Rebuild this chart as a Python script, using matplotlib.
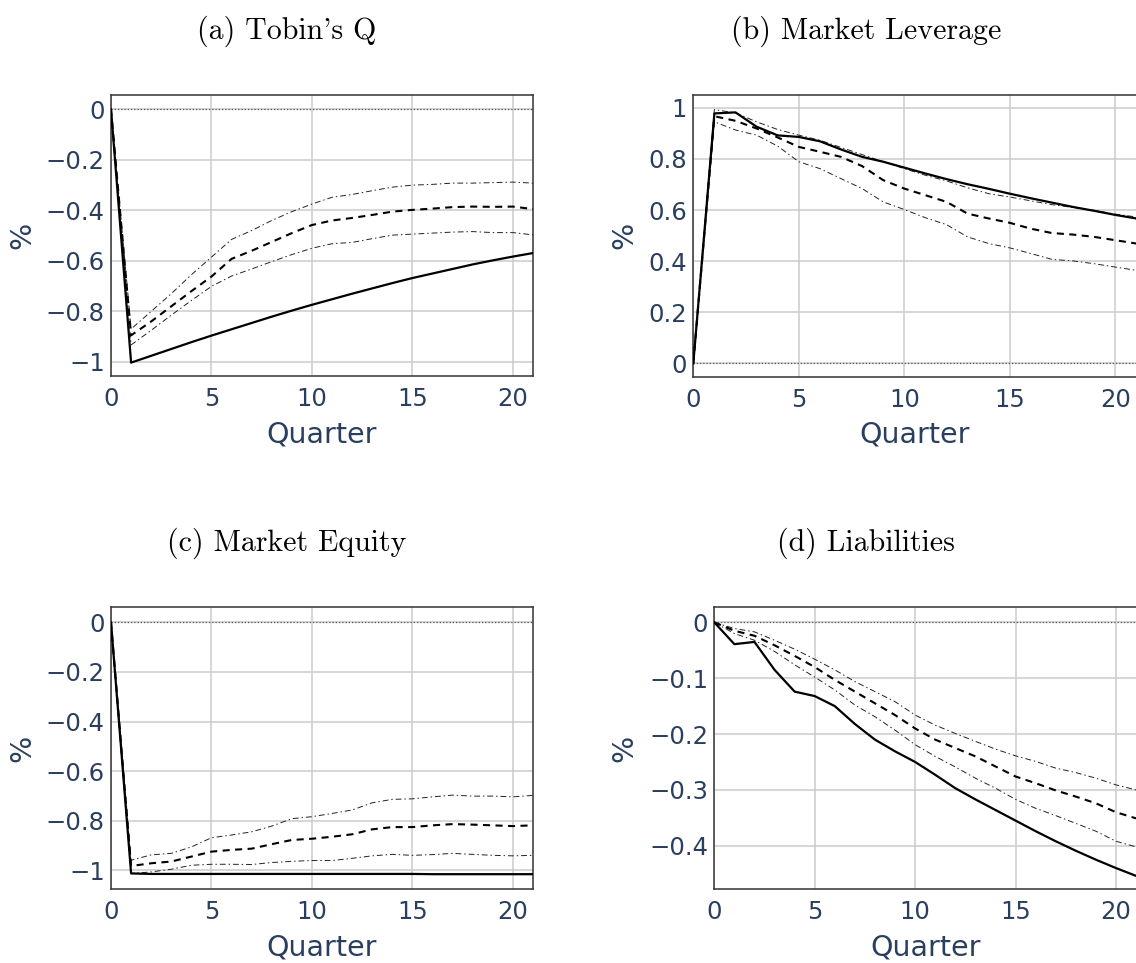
import matplotlib
matplotlib.use("Agg")
import matplotlib.pyplot as plt
from matplotlib.ticker import FixedLocator, FixedFormatter

W, H = 1136, 963

quarters = list(range(22))

# (a) Tobin's Q
tobin_q = [0, -1.003, -0.976, -0.949, -0.922, -0.896, -0.871, -0.846, -0.821, -0.797, -0.774,
           -0.752, -0.730, -0.709, -0.688, -0.668, -0.650, -0.632, -0.614, -0.598, -0.583, -0.569]
tobin_q_med = [0, -0.895, -0.840, -0.780, -0.720, -0.662, -0.592, -0.560, -0.525, -0.490, -0.458,
               -0.440, -0.430, -0.418, -0.405, -0.398, -0.393, -0.387, -0.385, -0.386, -0.385, -0.395]
tobin_q_hi = [0, -0.870, -0.800, -0.730, -0.655, -0.585, -0.515, -0.480, -0.440, -0.405, -0.375,
              -0.348, -0.337, -0.322, -0.308, -0.300, -0.297, -0.292, -0.292, -0.290, -0.288, -0.292]
tobin_q_lo = [0, -0.933, -0.875, -0.815, -0.757, -0.701, -0.660, -0.632, -0.603, -0.575, -0.550,
              -0.532, -0.527, -0.512, -0.498, -0.494, -0.490, -0.486, -0.484, -0.488, -0.488, -0.497]

# (b) Market Leverage
leverage = [0, 0.978, 0.982, 0.926, 0.892, 0.886, 0.869, 0.837, 0.808, 0.789, 0.766,
            0.743, 0.721, 0.701, 0.683, 0.664, 0.646, 0.629, 0.612, 0.597, 0.581, 0.567]
leverage_med = [0, 0.967, 0.949, 0.919, 0.884, 0.847, 0.828, 0.808, 0.772, 0.717, 0.684,
                0.658, 0.632, 0.586, 0.567, 0.550, 0.527, 0.510, 0.504, 0.495, 0.482, 0.469]
leverage_hi = [0, 0.993, 0.980, 0.945, 0.915, 0.893, 0.873, 0.845, 0.817, 0.789, 0.762,
               0.736, 0.714, 0.687, 0.664, 0.651, 0.636, 0.621, 0.610, 0.599, 0.584, 0.573]
leverage_lo = [0, 0.945, 0.913, 0.893, 0.850, 0.789, 0.762, 0.723, 0.684, 0.632, 0.602,
               0.570, 0.543, 0.495, 0.469, 0.452, 0.430, 0.407, 0.401, 0.390, 0.377, 0.364]

# (c) Market Equity
equity = [0, -1.013, -1.015, -1.015, -1.015, -1.015, -1.015, -1.015, -1.015, -1.015, -1.015,
          -1.015, -1.015, -1.015, -1.015, -1.015, -1.016, -1.016, -1.016, -1.016, -1.016, -1.016]
equity_med = [0, -0.983, -0.972, -0.965, -0.945, -0.925, -0.918, -0.913, -0.895, -0.878, -0.873,
              -0.865, -0.855, -0.835, -0.826, -0.826, -0.819, -0.814, -0.816, -0.819, -0.822, -0.819]
equity_hi = [0, -0.960, -0.938, -0.932, -0.906, -0.869, -0.858, -0.845, -0.822, -0.792, -0.784,
             -0.771, -0.757, -0.728, -0.714, -0.712, -0.704, -0.697, -0.701, -0.701, -0.704, -0.698]
equity_lo = [0, -1.013, -1.007, -0.996, -0.980, -0.976, -0.976, -0.977, -0.969, -0.964, -0.961,
             -0.961, -0.952, -0.942, -0.936, -0.940, -0.937, -0.932, -0.936, -0.940, -0.942, -0.940]

# (d) Liabilities
liabilities = [0, -0.039, -0.035, -0.085, -0.124, -0.132, -0.150, -0.182, -0.210, -0.231, -0.250,
               -0.273, -0.297, -0.317, -0.336, -0.355, -0.374, -0.392, -0.409, -0.425, -0.440, -0.454]
liabilities_med = [0, -0.015, -0.024, -0.041, -0.060, -0.080, -0.103, -0.124, -0.145, -0.166, -0.190,
                   -0.210, -0.225, -0.240, -0.258, -0.276, -0.288, -0.301, -0.312, -0.324, -0.340, -0.351]
liabilities_hi = [0, -0.011, -0.017, -0.032, -0.048, -0.066, -0.085, -0.106, -0.124, -0.142, -0.166,
                  -0.184, -0.199, -0.213, -0.227, -0.239, -0.249, -0.261, -0.269, -0.279, -0.291, -0.300]
liabilities_lo = [0, -0.020, -0.032, -0.052, -0.076, -0.098, -0.121, -0.148, -0.169, -0.193, -0.219,
                  -0.240, -0.259, -0.279, -0.297, -0.317, -0.333, -0.346, -0.360, -0.374, -0.392, -0.402]

titles = ["(a) Tobin's Q", "(b) Market Leverage", "(c) Market Equity", "(d) Liabilities"]
x_ticks = [0, 5, 10, 15, 20]
x_tick_labels = ["0", "5", "10", "15", "20"]
neg_ticks = [0, -0.2, -0.4, -0.6, -0.8, -1.0]
neg_tick_labels = ["0", "\u22120.2", "\u22120.4", "\u22120.6", "\u22120.8", "\u22121"]
pos_ticks = [0, 0.2, 0.4, 0.6, 0.8, 1.0]
pos_tick_labels = ["0", "0.2", "0.4", "0.6", "0.8", "1"]
liab_ticks = [0, -0.1, -0.2, -0.3, -0.4]
liab_tick_labels = ["0", "\u22120.1", "\u22120.2", "\u22120.3", "\u22120.4"]

TXT = "#2a3f5f"

fig = plt.figure(figsize=(W / 100, H / 100), dpi=100)
fig.patch.set_facecolor("white")


def px_axes(left, top, right, bottom):
    return fig.add_axes([left / W, 1 - bottom / H, (right - left) / W, (bottom - top) / H])


panels = [
    dict(box=(111, 95, 533, 376), data=(tobin_q, tobin_q_med, tobin_q_hi, tobin_q_lo),
         ylim=(-1.056, 0.057), yt=neg_ticks, ytl=neg_tick_labels, ylab_x=22,
         title_xy=(287, 31), xlab_y=435, cut=False),
    dict(box=(693.3, 95, 1136.3, 376.7), data=(leverage, leverage_med, leverage_hi, leverage_lo),
         ylim=(-0.052, 1.050), yt=pos_ticks, ytl=pos_tick_labels, ylab_x=624,
         title_xy=(866, 31), xlab_y=435, cut=True),
    dict(box=(111, 607, 533, 889.3), data=(equity, equity_med, equity_hi, equity_lo),
         ylim=(-1.077, 0.062), yt=neg_ticks, ytl=neg_tick_labels, ylab_x=22,
         title_xy=(287, 543), xlab_y=947, cut=False),
    dict(box=(714.3, 607.3, 1136.1, 889.3),
         data=(liabilities, liabilities_med, liabilities_hi, liabilities_lo),
         ylim=(-0.478, 0.027), yt=liab_ticks, ytl=liab_tick_labels, ylab_x=624,
         title_xy=(866, 543), xlab_y=947, cut=True),
]

for title, p in zip(titles, panels):
    l, t, r, b = p["box"]
    ax = px_axes(l, t, r, b)
    irf, med, hi, lo = p["data"]

    ax.set_xlim(0, 21)
    ax.set_ylim(*p["ylim"])
    ax.xaxis.set_major_locator(FixedLocator(x_ticks))
    ax.xaxis.set_major_formatter(FixedFormatter(x_tick_labels))
    ax.yaxis.set_major_locator(FixedLocator(p["yt"]))
    ax.yaxis.set_major_formatter(FixedFormatter(p["ytl"]))
    ax.tick_params(axis="both", length=0, labelsize=17.5, labelcolor=TXT)
    ax.tick_params(axis="x", pad=8)
    ax.tick_params(axis="y", pad=4.5)
    ax.grid(True, color="#cccccc", linewidth=1.1)
    ax.set_axisbelow(True)

    for side, sp in ax.spines.items():
        sp.set_color("#333333")
        sp.set_linewidth(1.1)
    if p["cut"]:
        ax.spines["right"].set_visible(False)

    ax.axhline(0, color="#555555", linewidth=0.9, linestyle=(0, (1, 1.6)), zorder=2)
    ax.plot(quarters, hi, color="#222222", linewidth=0.7, dashes=(6, 3, 1.5, 3), zorder=3)
    ax.plot(quarters, lo, color="#222222", linewidth=0.7, dashes=(6, 3, 1.5, 3), zorder=3)
    ax.plot(quarters, med, color="black", linewidth=1.5, dashes=(3.4, 2.6), zorder=4)
    ax.plot(quarters, irf, color="black", linewidth=1.6, zorder=5)

    ax.set_xlabel("Quarter", fontsize=20.5, color=TXT, va="center")
    ax.xaxis.set_label_coords(0.5, (b - p["xlab_y"]) / (b - t))
    ax.set_ylabel("%", fontsize=20.5, color=TXT, va="center")
    ax.yaxis.set_label_coords((p["ylab_x"] - l) / (r - l), 0.5)

    tx, ty = p["title_xy"]
    fig.text(tx / W, 1 - ty / H, title, family="cmr10", fontsize=21.5,
             ha="center", va="center", color="black")

fig.savefig("out.png", dpi=100, facecolor="white")
